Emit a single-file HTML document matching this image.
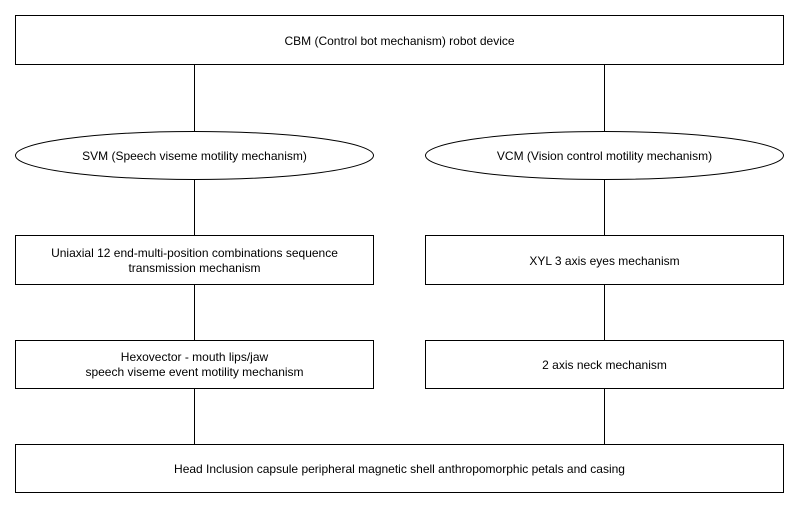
<!DOCTYPE html>
<html><head><style>
html,body{margin:0;padding:0;background:#fff;}
svg{display:block;}
text{font-family:"Liberation Sans",sans-serif;font-size:12px;fill:#000;text-anchor:middle;}
</style></head><body>
<svg width="799" height="508" xmlns="http://www.w3.org/2000/svg">
<g stroke="#000" stroke-width="1" fill="#fff" shape-rendering="crispEdges">
<line x1="194.5" y1="64" x2="194.5" y2="131"/>
<line x1="194.5" y1="179" x2="194.5" y2="235"/>
<line x1="194.5" y1="284" x2="194.5" y2="340"/>
<line x1="194.5" y1="388" x2="194.5" y2="444"/>
<line x1="604.5" y1="64" x2="604.5" y2="131"/>
<line x1="604.5" y1="179" x2="604.5" y2="235"/>
<line x1="604.5" y1="284" x2="604.5" y2="340"/>
<line x1="604.5" y1="388" x2="604.5" y2="444"/>
<rect x="15.5" y="15.5" width="768" height="49"/>
<rect x="15.5" y="235.5" width="358" height="49"/>
<rect x="425.5" y="235.5" width="358" height="49"/>
<rect x="15.5" y="340.5" width="358" height="48"/>
<rect x="425.5" y="340.5" width="358" height="48"/>
<rect x="15.5" y="444.5" width="768" height="48"/>
</g>
<g stroke="#000" stroke-width="1" fill="#fff">
<ellipse cx="194.5" cy="155.5" rx="179" ry="24"/>
<ellipse cx="604.5" cy="155.5" rx="179" ry="24"/>
</g>
<text x="399.5" y="45">CBM (Control bot mechanism) robot device</text>
<text x="194.5" y="160">SVM (Speech viseme motility mechanism)</text>
<text x="604.5" y="160">VCM (Vision control motility mechanism)</text>
<text x="194.5" y="257">Uniaxial 12 end-multi-position combinations sequence</text>
<text x="194.5" y="272">transmission mechanism</text>
<text x="604.5" y="265">XYL 3 axis eyes mechanism</text>
<text x="194.5" y="361">Hexovector - mouth lips/jaw</text>
<text x="194.5" y="376">speech viseme event motility mechanism</text>
<text x="604.5" y="369">2 axis neck mechanism</text>
<text x="399.5" y="473">Head Inclusion capsule peripheral magnetic shell anthropomorphic petals and casing</text>
</svg>
</body></html>
